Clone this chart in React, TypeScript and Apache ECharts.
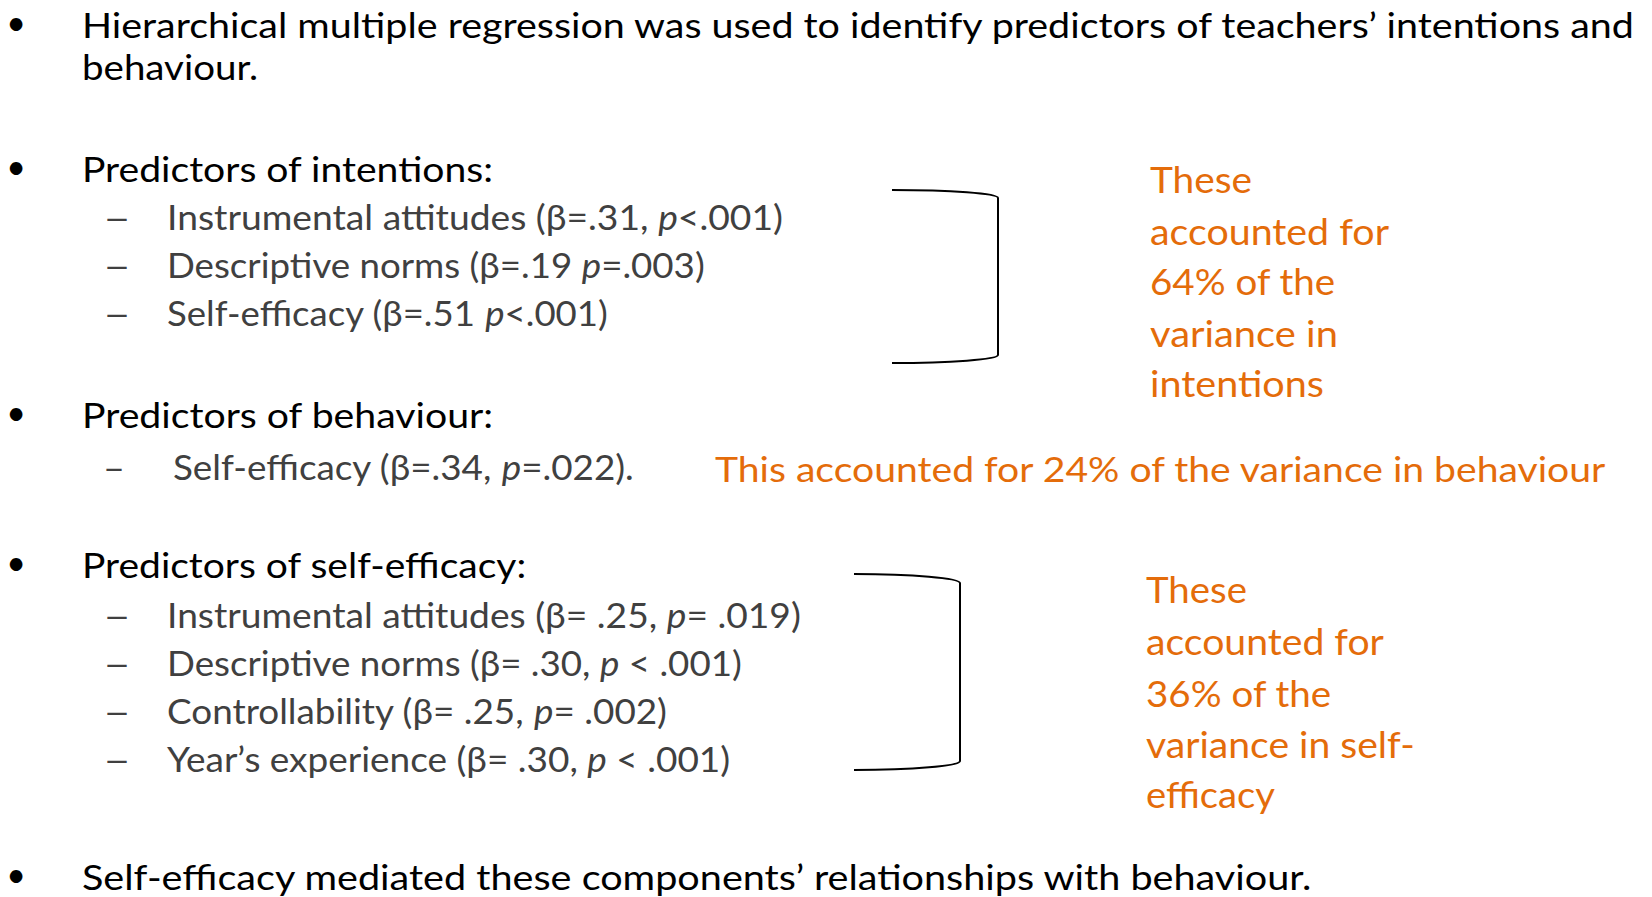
import React, { useEffect, useRef } from "react";
import * as echarts from "echarts";

// ---------- content ----------
const introLines = [
  "Hierarchical multiple regression was used to identify predictors of teachers’ intentions and",
  "behaviour.",
];
const sectionTitles = [
  "Predictors of intentions:",
  "Predictors of behaviour:",
  "Predictors of self-efficacy:",
];
const intentionPredictors = [
  "Instrumental attitudes (β=.31, {i|p}<.001)",
  "Descriptive norms (β=.19 {i|p}=.003)",
  "Self-efficacy (β=.51 {i|p}<.001)",
];
const behaviourPredictors = ["Self-efficacy (β=.34, {i|p}=.022)."];
const selfEfficacyPredictors = [
  "Instrumental attitudes (β= .25, {i|p}= .019)",
  "Descriptive norms (β= .30, {i|p} < .001)",
  "Controllability (β= .25, {i|p}= .002)",
  "Year’s experience (β= .30, {i|p} < .001)",
];
const intentionsNote = ["These", "accounted for", "64% of the", "variance in", "intentions"];
const behaviourNote = "This accounted for 24% of the variance in behaviour";
const selfEfficacyNote = ["These", "accounted for", "36% of the", "variance in self-", "efficacy"];
const conclusion = "Self-efficacy mediated these components’ relationships with behaviour.";

// ---------- layout (pixel positions of the slide) ----------
const W = 1652;
const H = 897;
const FONT = "Lato";
const CENTRAL = 0.387; // Lato: distance from baseline to SVG "central" baseline, in em
const FS = 35;
const FS_NOTE = 36;
const FS_BULLET = 34;
const BLACK = "#000000";
const GREY = "#404040";
const ORANGE = "#E46C0A";

const MAIN_X = 82;
const SUB_X = 167;
const DASH_X = 103;
const BULLET_X = 16;

const introBaselines = [38, 80];
const introRights = [1638, 258];
const titleBaselines = [182, 428, 578];
const titleRights = [494, 494, 527];
const intentionBaselines = [230, 278, 326];
const intentionRights = [783, 705, 608];
const behaviourBaselines = [480];
const behaviourRights = [634];
const behaviourX = 173;
const selfEffBaselines = [628, 676, 724, 772];
const selfEffRights = [801, 742, 667, 730];
const conclusionBaseline = 890;
const conclusionRight = 1314;
const bulletCenters = [25, 169, 415, 565, 877];

const note1X = 1150;
const note1Baselines = [193, 245, 295, 347, 397];
const note1Rights = [1252, 1389, 1336, 1338, 1324];
const note2X = 1146;
const note2Baselines = [603, 655, 707, 758, 808];
const note2Rights = [1247, 1384, 1332, 1415, 1275];
const behNoteX = 715;
const behNoteBaseline = 482;
const behNoteRight = 1608;

// bracket: left, top, right, bottom, corner curve height
const brackets = [
  [892, 190, 998, 363, 8],
  [854, 574, 960, 770, 9],
];

// ---------- helpers ----------
let ctx: CanvasRenderingContext2D | null = null;
function measureRich(text: string, fs: number): number {
  if (!ctx) ctx = document.createElement("canvas").getContext("2d");
  const parts = text.split(/(\{i\|[^}]*\})/);
  let w = 0;
  for (const p of parts) {
    if (!p) continue;
    const m = p.match(/^\{i\|([^}]*)\}$/);
    if (m) {
      ctx!.font = `italic ${fs}px ${FONT}`;
      w += ctx!.measureText(m[1]).width;
    } else {
      ctx!.font = `${fs}px ${FONT}`;
      w += ctx!.measureText(p).width;
    }
  }
  return w;
}

function textEl(text: string, x: number, baseline: number, right: number, fs: number, color: string) {
  const natural = measureRich(text, fs);
  const sx = natural > 0 ? (right - x) / natural : 1;
  return {
    type: "text",
    x,
    y: baseline - CENTRAL * fs,
    scaleX: sx,
    silent: true,
    style: {
      text,
      fill: color,
      fontSize: fs,
      fontFamily: FONT,
      align: "left",
      verticalAlign: "middle",
      rich: {
        i: { fontStyle: "italic", fontSize: fs, fontFamily: FONT, fill: color },
      },
    },
  };
}

function bulletEl(cy: number) {
  return {
    type: "text",
    x: BULLET_X,
    y: cy - 0.1 * FS_BULLET,
    silent: true,
    style: {
      text: "•",
      fill: BLACK,
      fontSize: FS_BULLET,
      fontFamily: FONT,
      align: "center",
      verticalAlign: "middle",
    },
  };
}

function bracketEls(b: number[]) {
  const [l, t, r, btm, c] = b;
  const k = 0.5523;
  const rx = r - l;
  const style = { stroke: "#000", lineWidth: 2, fill: "none" };
  return [
    {
      type: "bezierCurve",
      silent: true,
      shape: { x1: l, y1: t, cpx1: l + k * rx, cpy1: t, cpx2: r, cpy2: t + c - k * c, x2: r, y2: t + c },
      style,
    },
    { type: "line", silent: true, shape: { x1: r, y1: t + c, x2: r, y2: btm - c }, style },
    {
      type: "bezierCurve",
      silent: true,
      shape: { x1: l, y1: btm, cpx1: l + k * rx, cpy1: btm, cpx2: r, cpy2: btm - c + k * c, x2: r, y2: btm - c },
      style,
    },
  ];
}

function buildElements() {
  const els: any[] = [];
  introLines.forEach((t, i) => els.push(textEl(t, MAIN_X, introBaselines[i], introRights[i], FS, BLACK)));
  sectionTitles.forEach((t, i) => els.push(textEl(t, MAIN_X, titleBaselines[i], titleRights[i], FS, BLACK)));
  els.push(textEl(conclusion, MAIN_X, conclusionBaseline, conclusionRight, FS, BLACK));

  bulletCenters.forEach((c) => els.push(bulletEl(c)));

  intentionPredictors.forEach((t, i) => {
    els.push(textEl("–", DASH_X, intentionBaselines[i], DASH_X + 28, FS, GREY));
    els.push(textEl(t, SUB_X, intentionBaselines[i], intentionRights[i], FS, GREY));
  });
  behaviourPredictors.forEach((t, i) => {
    els.push(textEl("–", DASH_X, behaviourBaselines[i], DASH_X + 22, FS, GREY));
    els.push(textEl(t, behaviourX, behaviourBaselines[i], behaviourRights[i], FS, GREY));
  });
  selfEfficacyPredictors.forEach((t, i) => {
    els.push(textEl("–", DASH_X, selfEffBaselines[i], DASH_X + 28, FS, GREY));
    els.push(textEl(t, SUB_X, selfEffBaselines[i], selfEffRights[i], FS, GREY));
  });

  intentionsNote.forEach((t, i) => els.push(textEl(t, note1X, note1Baselines[i], note1Rights[i], FS_NOTE, ORANGE)));
  selfEfficacyNote.forEach((t, i) => els.push(textEl(t, note2X, note2Baselines[i], note2Rights[i], FS_NOTE, ORANGE)));
  els.push(textEl(behaviourNote, behNoteX, behNoteBaseline, behNoteRight, FS, ORANGE));

  brackets.forEach((b) => els.push(...bracketEls(b)));
  return els;
}

export default function App() {
  const ref = useRef<HTMLDivElement>(null);
  useEffect(() => {
    if (!ref.current) return;
    const chart = echarts.init(ref.current, null, { renderer: "svg", width: W, height: H });
    chart.setOption({
      animation: false,
      backgroundColor: "#ffffff",
      graphic: { elements: buildElements() },
    });
    return () => chart.dispose();
  }, []);
  return (
    <div
      ref={ref}
      style={{ position: "fixed", left: 0, top: 0, width: W, height: H, background: "#fff" }}
    />
  );
}
